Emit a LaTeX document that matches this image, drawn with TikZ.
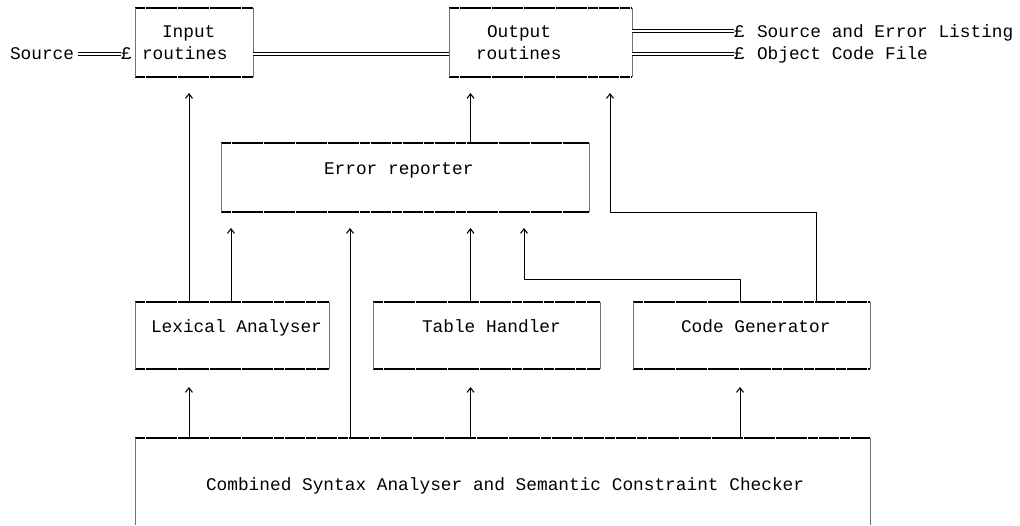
\documentclass[tikz,border=0pt]{standalone}
\usepackage{fontspec}
\setmonofont{Liberation Mono}
\usetikzlibrary{arrows.meta}

% horizontal edges heavy and black, vertical edges light
\newcommand\boxoutline[1]{%
  \draw[hedge] (#1.north west) -- (#1.north east) (#1.south west) -- (#1.south east);
  \draw[vedge] (#1.north west) -- (#1.south west) (#1.north east) -- (#1.south east);}

\begin{document}
\begin{tikzpicture}[x=1pt,y=-1pt,
  font=\ttfamily\fontsize{17.8}{23}\selectfont,
  box/.style={inner sep=0pt, outer sep=0pt},
  txt/.style={inner sep=0pt, outer sep=0pt, anchor=base west},
  hedge/.style={line width=1.4pt, black, dash pattern=on 10.18pt off 0.5pt},
  vedge/.style={line width=0.9pt, black!55},
  conn/.style={line width=1pt, black},
  arr/.style={conn, -{Straight Barb[length=4.5pt,width=7pt,line width=1.1pt]}, shorten >=16pt},
  arrlow/.style={arr, shorten >=18pt},
  dbl/.style={double, double distance=2.6pt, line width=0.9pt}]

\fill[white] (0,0) rectangle (1020,525);
\useasboundingbox (0,0) rectangle (1020,525);

% boxes
\node[box, minimum width=118pt, minimum height=69pt] (inp)  at (194,42.5)  {};
\node[box, minimum width=183pt, minimum height=69pt] (out)  at (540.5,42.5) {};
\node[box, minimum width=368pt, minimum height=69pt] (err)  at (405,177.5) {};
\node[box, minimum width=194pt, minimum height=67pt] (lex)  at (232,335.5) {};
\node[box, minimum width=227pt, minimum height=67pt] (tab)  at (486.5,335.5) {};
\node[box, minimum width=237pt, minimum height=67pt] (gen)  at (751.5,335.5) {};
\node[box, minimum width=735pt, minimum height=87pt] (comb) at (502.5,481.5) {};

\boxoutline{inp}
\boxoutline{out}
\boxoutline{err}
\boxoutline{lex}
\boxoutline{tab}
\boxoutline{gen}
% the checker box runs off the bottom: top and sides only
\draw[hedge] (comb.north west) -- (comb.north east);
\draw[vedge] (comb.north west) -- (comb.south west) (comb.north east) -- (comb.south east);

% box texts
\node[txt] (inpA) at (162,37) {Input};
\node[txt] (inpB) at (142,59.5) {routines};
\node[txt] (outA) at (487,37) {Output};
\node[txt] (outB) at (476,59.5) {routines};
\node[txt] (errT) at (324,174) {Error reporter};
\node[txt] (lexT) at (151,332) {Lexical Analyser};
\node[txt] (tabT) at (422,332) {Table Handler};
\node[txt] (genT) at (681,332) {Code Generator};
\node[txt] (combT) at (206,490) {Combined Syntax Analyser and Semantic Constraint Checker};

% files in and out
\node[txt] (src) at (10,59.5) {Source};
\node[txt] (pin) at (121,59.5) {£};
\node[txt] (po1) at (734,37) {£};
\node[txt] (po2) at (734,59.5) {£};
\node[txt] (l1) at (757,37) {Source and Error Listing};
\node[txt] (l2) at (757,59.5) {Object Code File};

% rows and columns of the connectors
\coordinate (yd0) at (0,31);
\coordinate (yd1) at (0,54);
\coordinate (yj)  at (0,279);
\coordinate (xa) at (189,0);
\coordinate (xb) at (231,0);
\coordinate (xc) at (350,0);
\coordinate (xd) at (470.5,0);
\coordinate (xe) at (524,0);
\coordinate (xf) at (740,0);
\coordinate (xg) at (816.5,0);
\coordinate (xh) at (610,0);

% data streams
\draw[dbl] ([xshift=4pt]src.east |- yd1) -- (pin.west |- yd1);
\draw[dbl] (inp.east |- yd1) -- (out.west |- yd1);
\draw[dbl] (out.east |- yd0) -- (po1.west |- yd0);
\draw[dbl] (out.east |- yd1) -- (po2.west |- yd1);

% calls
\draw[arr] (xa |- lex.north) -- (xa |- inp.south);
\draw[arr] (xb |- lex.north) -- (xb |- err.south);
\draw[arr] (xc |- comb.north) -- (xc |- err.south);
\draw[arr] (xd |- tab.north) -- (xd |- err.south);
\draw[arr] (xf |- gen.north) -- (xf |- yj) -- (xe |- yj) -- (xe |- err.south);
\draw[arr] (xg |- gen.north) -- (xg |- err.south) -- (xh |- err.south) -- (xh |- out.south);
\draw[arr] (xd |- err.north) -- (xd |- out.south);
\draw[arrlow] (xa |- comb.north) -- (xa |- lex.south);
\draw[arrlow] (xd |- comb.north) -- (xd |- tab.south);
\draw[arrlow] (xf |- comb.north) -- (xf |- gen.south);

\end{tikzpicture}
\end{document}
